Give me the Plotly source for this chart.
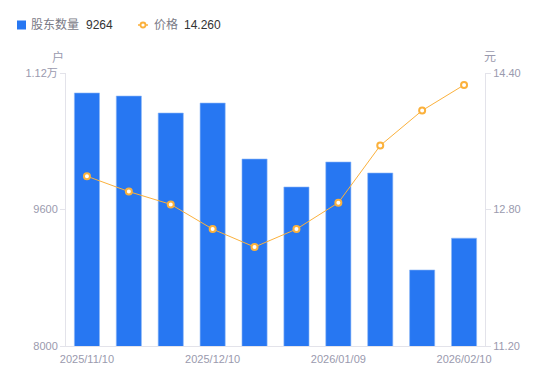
import plotly.graph_objects as go

dates = ["2025/11/10", "2025/11/20", "2025/11/30", "2025/12/10", "2025/12/19",
         "2025/12/31", "2026/01/09", "2026/01/20", "2026/01/30", "2026/02/10"]
holders = [10966, 10930, 10731, 10848, 10192, 9864, 10157, 10028, 8891, 9264]
prices = [13.19, 13.01, 12.86, 12.57, 12.36, 12.57, 12.88, 13.55, 13.96, 14.26]
x_ticks = ["2025/11/10", "2025/12/10", "2026/01/09", "2026/02/10"]
left_ticks = [8000, 9600, 11200]
left_text = ["8000", "9600", "1.12万"]
right_ticks = [11.2, 12.8, 14.4]
right_text = ["11.20", "12.80", "14.40"]

FONT = "Liberation Sans, Noto Sans CJK SC, sans-serif"
GRAY = "#9a9aae"
AXIS = "#e3e3ea"
BLUE = "#2777f2"
ORANGE = "#fbb13c"

OFF = 8  # page body margin
PAGE_W, PAGE_H = 550, 381
W, H = PAGE_W - OFF, PAGE_H - OFF
# plot area in page pixels
PX0, PX1, PY0, PY1 = 66, 485, 73, 346
L, T = PX0 - OFF, PY0 - OFF
PW, PH = PX1 - PX0, PY1 - PY0
R, B = W - L - PW, H - T - PH


def px(x):
    return (x - PX0) / PW


def py(y):
    return (PY1 - y) / PH


fig = go.Figure()
fig.add_trace(go.Bar(
    x=dates, y=holders, name="股东数量",
    marker=dict(color=BLUE, line=dict(color="#8fb8f7", width=0.6)),
    width=0.6, yaxis="y"))
fig.add_trace(go.Scatter(
    x=dates, y=prices, name="价格",
    mode="lines+markers", yaxis="y2",
    line=dict(color=ORANGE, width=1),
    marker=dict(symbol="circle", size=6, color="white",
                line=dict(color=ORANGE, width=2))))

ann = [
    dict(text="户", x=px(58), y=py(57)),
    dict(text="元", x=px(490), y=py(57)),
]
annotations = [dict(a, xref="paper", yref="paper", xanchor="center", yanchor="middle",
                    showarrow=False, font=dict(size=12, color=GRAY)) for a in ann]

LEG_Y = 25
legend_items = [
    (px(29), "股东数量", "#7a7a86"),
    (px(84), f"{holders[-1]}", "#333333"),
    (px(152), "价格", "#7a7a86"),
    (px(182), f"{prices[-1]:.3f}", "#333333"),
]
for x, t, c in legend_items:
    annotations.append(dict(text=t, x=x, y=py(LEG_Y), xref="paper", yref="paper",
                            xanchor="left", yanchor="middle", showarrow=False,
                            font=dict(size=12, color=c)))

shapes = [
    dict(type="rect", xref="paper", yref="paper", x0=px(17), x1=px(26),
         y0=py(LEG_Y + 4.5), y1=py(LEG_Y - 4.5), fillcolor=BLUE, line=dict(width=0)),
    dict(type="line", xref="paper", yref="paper", x0=px(138), x1=px(148),
         y0=py(LEG_Y), y1=py(LEG_Y), line=dict(color=ORANGE, width=1.5)),
    dict(type="circle", xref="paper", yref="paper", x0=px(140.5), x1=px(145.5),
         y0=py(LEG_Y + 2.5), y1=py(LEG_Y - 2.5), fillcolor="white",
         line=dict(color=ORANGE, width=1.8)),
]

fig.update_layout(
    width=W, height=H,
    margin=dict(l=L, r=R, t=T, b=B, autoexpand=False),
    paper_bgcolor="white", plot_bgcolor="white",
    font=dict(family=FONT, size=11, color=GRAY),
    showlegend=False,
    bargap=0.4,
    xaxis=dict(type="category", tickmode="array", tickvals=x_ticks, ticktext=x_ticks,
               showgrid=False, showline=True, linecolor=AXIS, linewidth=1,
               ticks="", tickfont=dict(size=11, color=GRAY), tickangle=0,
               ticklabelstandoff=3,
               range=[-0.5, len(dates) - 0.5], automargin=False),
    yaxis=dict(range=[8000, 11200], tickmode="array", tickvals=left_ticks,
               ticktext=left_text, showgrid=False, showline=True, linecolor=AXIS,
               ticks="outside", ticklen=5, tickcolor=AXIS, zeroline=False,
               tickfont=dict(size=11, color=GRAY), automargin=False),
    yaxis2=dict(range=[11.2, 14.4], tickmode="array", tickvals=right_ticks,
                ticktext=right_text, overlaying="y", side="right",
                showgrid=False, showline=True, linecolor=AXIS,
                ticks="outside", ticklen=5, tickcolor=AXIS, zeroline=False,
                tickfont=dict(size=11, color=GRAY), automargin=False),
    annotations=annotations,
    shapes=shapes,
)

fig.write_html("out.html")
